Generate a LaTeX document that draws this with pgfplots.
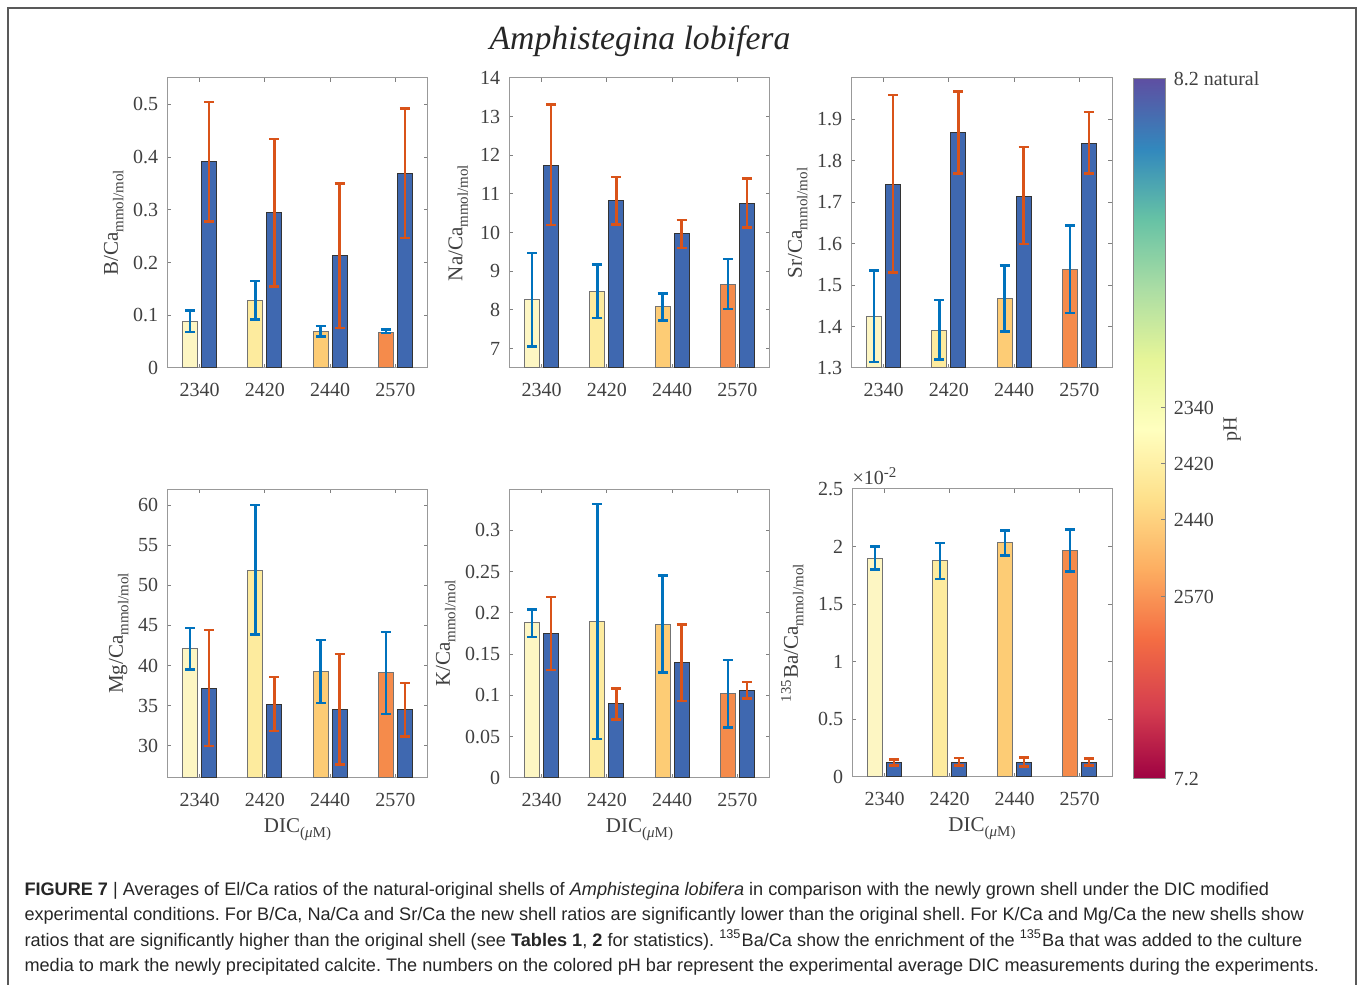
\documentclass[border=0pt]{standalone}
\usepackage{pgfplots}
\pgfplotsset{compat=1.18}
\usepackage{pgfplotstable}
\usepackage{fontspec}
\setmainfont{Liberation Serif}
\newfontfamily\capfont{Liberation Sans}
\frenchspacing

\definecolor{c1}{HTML}{FDF6C3}
\definecolor{c2}{HTML}{FDEB9E}
\definecolor{c3}{HTML}{FDCC75}
\definecolor{c4}{HTML}{F58B4B}
\definecolor{newblue}{HTML}{3F68B0}
\definecolor{errblue}{HTML}{0072BD}
\definecolor{errorange}{HTML}{D95319}

\newcommand{\sub}[1]{\raisebox{-2.2pt}{\fontsize{6}{7}\selectfont #1}}

\pgfplotsset{
 colormap={spectralr}{rgb255=(158,1,66) rgb255=(213,62,79) rgb255=(244,109,67) rgb255=(253,174,97) rgb255=(254,224,139) rgb255=(255,255,191) rgb255=(230,245,152) rgb255=(171,221,164) rgb255=(102,194,165) rgb255=(50,136,189) rgb255=(94,79,162)},
 panel/.style={scale only axis, anchor=south west,
   xmin=0.5, xmax=4.5, xtick={1,2,3,4}, xticklabels={2340,2420,2440,2570},
   tick align=inside, major tick length=1.6pt,
   axis line style={black!40}, every tick/.style={black!50, line width=0.4pt},
   tick label style={font=\fontsize{8}{9}\selectfont, text=black!75},
   xticklabel style={yshift=-2.4pt},
   label style={font=\fontsize{8.4}{10}\selectfont, text=black!75},
   ylabel shift=-3pt, xlabel shift=-2pt,
   /pgf/number format/assume math mode=true,
   yticklabel style={/pgf/number format/fixed},
   scaled y ticks=false},
 oldbar/.style={ybar, bar width=0.23, bar shift=0pt, draw=black!55, line width=0.4pt,
   error bars/y dir=both, error bars/y explicit,
   error bars/error bar style={color=errblue, line width=1pt},
   error bars/error mark options={color=errblue, line width=1pt, mark size=2pt, rotate=90}},
 newbar/.style={ybar, bar width=0.23, bar shift=0pt, fill=newblue, draw=black!80, line width=0.4pt,
   error bars/y dir=both, error bars/y explicit,
   error bars/error bar style={color=errorange, line width=1pt},
   error bars/error mark options={color=errorange, line width=1pt, mark size=2pt, rotate=90}},
}

% ---------- data: x  mean  upper  lower ----------
\pgfplotstableread{
x y hi lo
1 0.089 0.109 0.068
2 0.128 0.165 0.092
3 0.070 0.080 0.060
4 0.068 0.073 0.066
}\BOld
\pgfplotstableread{
x y hi lo
1 0.391 0.504 0.278
2 0.294 0.434 0.155
3 0.213 0.350 0.076
4 0.369 0.492 0.247
}\BNew
\pgfplotstableread{
x y hi lo
1 8.27 9.47 7.05
2 8.47 9.18 7.79
3 8.09 8.43 7.73
4 8.67 9.32 8.03
}\NaOld
\pgfplotstableread{
x y hi lo
1 11.74 13.31 10.20
2 10.82 11.44 10.21
3 9.97 10.33 9.60
4 10.75 11.40 10.13
}\NaNew
\pgfplotstableread{
x y hi lo
1 1.425 1.535 1.315
2 1.391 1.464 1.320
3 1.467 1.547 1.388
4 1.537 1.644 1.433
}\SrOld
\pgfplotstableread{
x y hi lo
1 1.744 1.959 1.531
2 1.868 1.967 1.769
3 1.715 1.834 1.599
4 1.843 1.918 1.770
}\SrNew
\pgfplotstableread{
x y hi lo
1 42.09 44.71 39.51
2 51.89 60.00 43.88
3 39.26 43.21 35.36
4 39.10 44.21 33.99
}\MgOld
\pgfplotstableread{
x y hi lo
1 37.15 44.42 29.96
2 35.15 38.56 31.83
3 34.53 41.43 27.67
4 34.53 37.85 31.20
}\MgNew
\pgfplotstableread{
x y hi lo
1 0.188 0.204 0.171
2 0.189 0.332 0.0475
3 0.1865 0.245 0.128
4 0.102 0.143 0.0614
}\KOld
\pgfplotstableread{
x y hi lo
1 0.175 0.219 0.131
2 0.090 0.1085 0.071
3 0.140 0.186 0.093
4 0.106 0.116 0.096
}\KNew
\pgfplotstableread{
x y hi lo
1 1.901 2.002 1.800
2 1.875 2.030 1.719
3 2.037 2.141 1.924
4 1.968 2.147 1.782
}\BaOld
\pgfplotstableread{
x y hi lo
1 0.122 0.150 0.098
2 0.130 0.165 0.098
3 0.130 0.171 0.093
4 0.130 0.159 0.101
}\BaNew

\newcommand{\lightbar}[4]{%
 \addplot[oldbar, fill=#4, skip coords between index={0}{#2}, skip coords between index={#3}{4}]
   table[x expr=\thisrow{x}-0.145, y=y, y error plus expr=\thisrow{hi}-\thisrow{y}, y error minus expr=\thisrow{y}-\thisrow{lo}] {#1};
}
\newcommand{\bars}[2]{%
 \lightbar{#1}{0}{1}{c1}
 \lightbar{#1}{1}{2}{c2}
 \lightbar{#1}{2}{3}{c3}
 \lightbar{#1}{3}{4}{c4}
 \addplot[newbar] table[x expr=\thisrow{x}+0.145, y=y, y error plus expr=\thisrow{hi}-\thisrow{y}, y error minus expr=\thisrow{y}-\thisrow{lo}] {#2};
}

\begin{document}
\begin{tikzpicture}
\useasboundingbox (0pt,0pt) rectangle (543.2pt,393.6pt);
\draw[black!65, line width=0.6pt] (3.2pt,-5pt) -- (3.2pt,390.4pt) -- (542.4pt,390.4pt) -- (542.4pt,-5pt);

\node[font=\fontsize{13.5}{16}\selectfont\itshape, text=black!85] at (256pt,377.2pt) {Amphistegina lobifera};

% Row 1
\begin{axis}[panel, at={(66.8pt,246.4pt)}, width=104.4pt, height=116pt,
  ymin=0, ymax=0.55, ytick={0,0.1,...,0.5},
  ylabel={B/Ca\sub{mmol/mol}}]
 \bars{\BOld}{\BNew}
\end{axis}
\begin{axis}[panel, at={(203.6pt,246.4pt)}, width=104.4pt, height=116pt,
  ymin=6.5, ymax=14, ytick={7,8,...,14},
  ylabel={Na/Ca\sub{mmol/mol}}, ylabel shift=-2pt]
 \bars{\NaOld}{\NaNew}
\end{axis}
\begin{axis}[panel, at={(340.4pt,246.4pt)}, width=104.4pt, height=116pt,
  ymin=1.3, ymax=2.0, ytick={1.3,1.4,1.5,1.6,1.7,1.8,1.9},
  ylabel={Sr/Ca\sub{mmol/mol}}]
 \bars{\SrOld}{\SrNew}
\end{axis}

% Row 2
\begin{axis}[panel, at={(66.8pt,82.4pt)}, width=104.4pt, height=115.6pt,
  ymin=26, ymax=62, ytick={30,35,...,60},
  ylabel={Mg/Ca\sub{mmol/mol}},
  xlabel={DIC\sub{(\textit{μ}M)}}]
 \bars{\MgOld}{\MgNew}
\end{axis}
\begin{axis}[panel, at={(203.6pt,82.4pt)}, width=104.4pt, height=115.6pt,
  ymin=0, ymax=0.35, ytick={0,0.05,0.1,0.15,0.2,0.25,0.3},
  ylabel={K/Ca\sub{mmol/mol}},
  xlabel={DIC\sub{(\textit{μ}M)}}]
 \bars{\KOld}{\KNew}
\end{axis}
\begin{axis}[panel, at={(340.8pt,82.8pt)}, width=104pt, height=115.2pt,
  ymin=0, ymax=2.5, ytick={0,0.5,1,1.5,2,2.5},
  ylabel={\textsuperscript{135}Ba/Ca\sub{mmol/mol}}, ylabel shift=-1pt,
  xlabel={DIC\sub{(\textit{μ}M)}}]
 \bars{\BaOld}{\BaNew}
\end{axis}
\node[anchor=base west, font=\fontsize{8}{9}\selectfont, text=black!75, inner sep=0pt] at (340.8pt,199.6pt) {×10\textsuperscript{-2}};

% Colour bar
\begin{axis}[at={(453.2pt,82pt)}, anchor=south west, scale only axis,
  width=12.8pt, height=280pt, xmin=0, xmax=1, ymin=7.2, ymax=8.2,
  xtick=\empty, ytick={7.2,7.46,7.57,7.65,7.73,8.2},
  yticklabels={7.2,2570,2440,2420,2340,8.2 natural},
  yticklabel pos=right, ytick pos=right, tick align=inside, major tick length=1.6pt,
  colormap name=spectralr, axis on top,
  axis line style={black!45}, every tick/.style={black!50, line width=0.4pt},
  tick label style={font=\fontsize{8}{9}\selectfont, text=black!75},
  ylabel={pH}, ylabel style={font=\fontsize{8}{9}\selectfont, text=black!75, at={(axis description cs:3.1,0.5)}, anchor=center}]
 \addplot[surf, shader=interp, point meta=y] coordinates {
 (0,7.2) (1,7.2)

 (0,8.2) (1,8.2)
 };
\end{axis}

% Caption
\begin{scope}[every node/.style={anchor=base west, inner sep=0pt, text=black!85, font=\capfont\fontsize{7.25}{8}\selectfont}]
\node at (9.6pt,35.6pt) {\textbf{FIGURE 7} | Averages of El/Ca ratios of the natural-original shells of \textit{Amphistegina lobifera} in comparison with the newly grown shell under the DIC modified};
\node at (9.6pt,25.6pt) {experimental conditions. For B/Ca, Na/Ca and Sr/Ca the new shell ratios are significantly lower than the original shell. For K/Ca and Mg/Ca the new shells show};
\node at (9.6pt,15.2pt) {ratios that are significantly higher than the original shell (see \textbf{Tables 1}, \textbf{2} for statistics). \textsuperscript{135}Ba/Ca show the enrichment of the \textsuperscript{135}Ba that was added to the culture};
\node at (9.6pt,5.2pt) {media to mark the newly precipitated calcite. The numbers on the colored pH bar represent the experimental average DIC measurements during the experiments.};
\end{scope}
\end{tikzpicture}
\end{document}
